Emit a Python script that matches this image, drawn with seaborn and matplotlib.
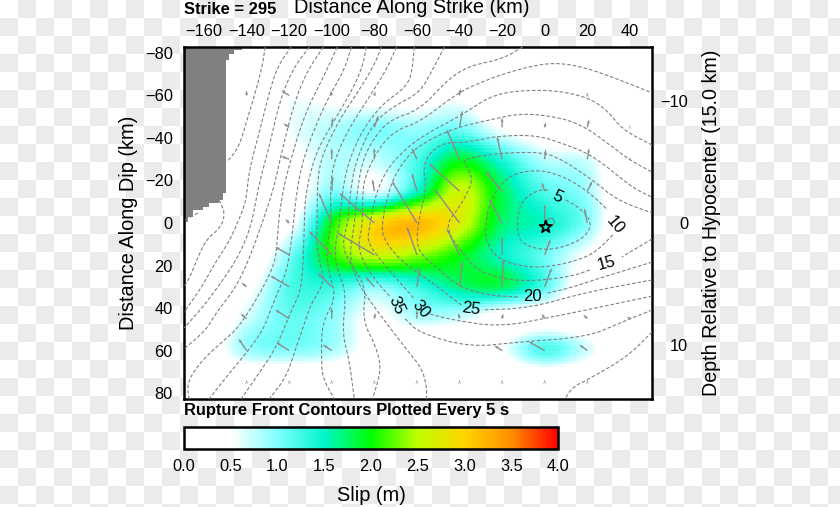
import numpy as np
import pandas as pd
import matplotlib
matplotlib.use("Agg")
import matplotlib.pyplot as plt
import seaborn as sns

# ---------- slip on the fault grid (m) ----------
strike_nodes = [-160, -140, -120, -100, -80, -60, -40, -20, 0, 20, 40]
dip_nodes = [-75, -60, -45, -30, -15, 0, 15, 30, 45, 60, 75]
slip_m75 = [0, 0, 0, 0, 0, 0, 0, 0, 0, 0, 0]
slip_m60 = [0, 0, .5, .4, .3, .3, .45, 0, 0, 0, 0]
slip_m45 = [0, 0, .55, .8, 1.0, .9, 1.05, .5, .2, 0, 0]
slip_m30 = [0, 0, .35, .8, .75, 1.2, 1.9, 1.4, .8, .7, 0]
slip_m15 = [0, 0, .15, 1.0, .6, 1.5, 2.6, 1.8, 1.2, .9, 0]
slip_p00 = [0, 0, .4, 2.0, 2.9, 3.2, 2.7, 1.75, 1.5, 1.0, 0]
slip_p15 = [0, .1, 1.0, 2.1, 2.6, 2.4, 2.0, 1.5, 1.1, .5, 0]
slip_p30 = [0, .4, 1.2, 1.3, 1.0, 1.3, 1.7, 1.8, 1.2, .2, 0]
slip_p45 = [0, .7, 1.1, .95, .45, .8, .7, .3, .2, .1, 0]
slip_p60 = [.25, .9, 1.0, .85, .3, 0, 0, .5, 1.2, .7, 0]
slip_p75 = [0, 0, 0, 0, 0, 0, 0, 0, 0, 0, 0]

# ---------- slip vectors (tail node, then offset to head, km) ----------
vec_x = [-140, -120, -100, -80, -40, 20,
         -120, -100, -80, -40, -20, 0, 20, 40,
         -120, -100, -80, -60, -40, -20, 0, 20, 40,
         -100, -80, -60, -40, -20, 0, 20,
         -120, -100, -80, -60, -40, -20, 0, 20,
         -120, -100, -80, -60, -40, -20, 0,
         -140, -120, -100, -80, -60, -40, -20, 0,
         -140, -120, -100, -80, -60, -40, -20, 0, 20, 40,
         -140, -120, -100, -20, 0, 20,
         -140, -120, -100, -80, -60, -40, -20, 0, 20]
vec_y = [-60] * 6 + [-45] * 8 + [-30] * 9 + [-15] * 7 + [0] * 8 + [15] * 7 + [30] * 8 + [45] * 10 + [60] * 6 + [75] * 9
vec_u = [0, -3.8, -.5, .5, .5, 0,
         -2.8, .5, 1.9, 1.4, 0, .5, .9, 0,
         -3.8, 0, 0, -2.4, -6.1, -2.4, .5, .9, 0,
         .5, -.9, -2.4, -14.6, -8, -1.4, 2.4,
         -1.9, -6.1, -16.5, -11.8, -11.8, -6.1, 0, -1.4,
         -6.6, -10.8, -17.4, -4.7, -6.1, 0, 2.8,
         -2.4, -8.9, -6.6, -4.2, 1.4, 1.4, .5, 3.3,
         -2.8, -6.6, 0, .5, 0, -.5, .5, -1.4, -1.9, -1.4,
         -3.8, -6.1, -4.2, -3.8, -7.5, -3.8,
         0, 0, 0, 0, 0, 0, 0, 0, 0]
vec_v = [-2.4, -2.4, -2.4, -2, -3.3, -1.4,
         -1.9, -4.7, -5.6, -8, -4.7, -2.4, -3.8, -1,
         -1.4, -5.2, -5.4, -5.2, -14.1, -10.8, -4.7, -5.2, -1,
         -7, -5.6, -8.5, -13.2, -9.4, -4.2, -4.7,
         -1.9, -14.1, -14.1, -19.8, -16, -11.3, -8.9, -7,
         -3.8, -11.3, -10.4, -13.2, -12.7, -8.5, -7.5,
         -1.9, -5.2, -6.6, -4.7, -9.4, -12.2, -13.2, -8.9,
         -2.4, -4.2, -5.2, -2.8, -4.2, -2.8, -2.4, -2.4, -1.9, -1,
         -5.6, -3.8, -2.8, -2.4, -4.2, -2.8,
         -1.2, -1.2, -1.2, -1.2, -1.2, -1.2, -1.2, -1.2, -1.2]

# ---------- rupture-front contours (km along strike / dip), nan = gap for a label ----------
n = np.nan
front05_x = [9.9, 16.5, 22.6, 17.9, 2.4, -10.4, -13.2, -11.8, -3.8, 1.9]
front05_y = [-10.8, -7.1, 0, 8, 13.2, 10.4, 3.3, -9.4, -15.5, -15.5]
front10_x = [32, 25.9, 19.8, 7.1, -7.1, -21.2, -26.8, -28.2, -25.9, -19.8, -11.8, -.9, 10.4, 21.2, 29.6]
front10_y = [5.6, 11.8, 16, 19.8, 21.2, 17.4, 10.4, 3.3, -9.4, -19.8, -24, -24.9, -21.2, -14.1, -6.1]
front15_x = [50.4, 36.2, n, 21.2, 11.8, -11.8, -30.6, -38.6, -44.7, -45.6, -40, -33.9, -35.3, -38.6, -35.3, -21.2, -.9, 8.5, 22.6, 33.9, 50.4]
front15_y = [7.5, 16, n, 22.1, 25.4, 27.8, 23.5, 14.1, 5.6, -.5, -7.5, -18.8, -24.9, -29.2, -30.6, -32.9, -33.4, -29.6, -20.2, -10.8, -4.7]
front20_x = [50.4, 25.9, 11.8, 1.4, n, -12.7, -27.3, -40, -49.4, -58.8, -60.2, -58.8, -55.5, -57.4, -49.4, -35.3, -22.6, -3.8, 10.4, 19.8, 28.2, 41.4, 50.4]
front20_y = [18.4, 25.9, 30.6, 32.9, n, 34.8, 33.9, 30.1, 22.1, 14.1, 6.6, -2.8, -16.9, -28.2, -37.6, -38.1, -40.9, -41.4, -36.7, -32.9, -27.3, -16.5, -12.2]
front25_x = [50.4, 19.8, -7.1, -29.2, n, -39.1, -52.7, -68.2, -76.2, -76.2, -74.8, -71.5, -65.9, -58.8, -42.4, -25.9, -10.4, 8.5, 19.8, 30.6, 40, 50.4]
front25_y = [26.8, 32.5, 40, 40.9, n, 38.6, 28.2, 17.4, 6.6, -.5, -8.5, -20.2, -29.6, -36.7, -44.7, -48.5, -51.8, -49.4, -44.7, -36.7, -29.6, -24]
front30_x = [50.4, 3.8, -21.2, -43.3, -54.1, n, -61.6, -74.4, -83.3, -82.4, -79.5, -74.4, -65.9, -56.5, -43.3, -35.3, -25.9, -15.1, 3.8, 19.8, 29.2, 36.7, 50.4]
front30_y = [34.4, 44.2, 48.9, 45.6, 42.8, n, 35.3, 20.7, 9.4, 2.4, -13.2, -24.9, -34.4, -41.4, -48.5, -53.2, -59.3, -62.1, -62.6, -59.3, -53.2, -43.8, -36.7]
front35_x = [50.4, 35.3, 19.8, -11.8, -35.3, -58.8, -65.9, n, -72.9, -80.9, -88, -85.6, -85.6, -84.7, -77.6, -69.6, -58.8, -43.3, -35.3, -19.8, -3.8, 7.1, 19.8, 35.3, 50.4]
front35_y = [40.9, 47.1, 53.6, 56, 58.4, 51.8, 44.7, n, 34.4, 25.4, 12.7, .9, -10.8, -21.6, -35.8, -43.8, -47.5, -59.3, -64, -70.1, -74.4, -75.3, -72.9, -67.3, -61.2]
front40_x = [-10.4, -19.8, -35.3, -44.7, -58.8, -72.9, -80.9, -86.1, -88.5, -89.4, -91.8, -88.5, -82.4, -74.4, -63.5, -57.9, -55.5, -55.5, n, 50.4, 38.6, 19.8, 13.2, 9.4]
front40_y = [-82.8, -77.2, -73.9, -68.2, -53.2, -48.5, -39.1, -27.8, -10.8, .9, 15.1, 26.8, 36.2, 47.1, 61.2, 68.2, 76.2, 82.8, n, 51.3, 63.1, 73.9, 77.2, 82.8]
front45_x = [-47.1, -52.7, -58.8, -71.5, -80.9, -88.5, -90.8, -91.8, -92.7, -95.1, -91.8, -83.8, -85.6, -79.1, -76.7, -80.9]
front45_y = [-82.8, -72, -61.2, -54.6, -46.6, -29.6, -17.9, -8.5, .9, 10.4, 18.4, 30.1, 45.6, 58.4, 69.2, 82.8]
front50_x = [-61.2, -62.6, -66.8, -76.2, -85.6, -91.8, -94.6, -96.5, -98.8, -97.4, -93.2, -95.1, -91.8, -89.4]
front50_y = [-82.8, -68.7, -62.6, -56, -43.8, -29.6, -17.9, .9, 12.7, 22.1, 32.9, 51.8, 64.5, 82.8]
front55_x = [-69.6, -74.4, -82.4, -93.2, -99.8, -100.7, -100.2, -102.6, -101.2, -97.9, -104.5, -104.9, -104.5, -98.8]
front55_y = [-82.8, -72, -59.3, -42.4, -26.4, -13.2, .9, 12.7, 24.5, 34.8, 47.1, 61.2, 72.5, 82.8]
front60_x = [-76.7, -80, -87.1, -96.5, -104.5, -106.8, -106.8, -107.3, -105.4, -103.5, -109.6, -113.4, -116.7, -121.4, -129.4]
front60_y = [-82.8, -74.4, -62.6, -48.5, -32, -20.2, .9, 10.4, 18.8, 28.2, 37.6, 48.9, 58.4, 72.5, 82.8]
front65_x = [-83.8, -85.6, -90.4, -99.8, -106.8, -110.6, -112.5, -112.9, -113.4, -114.4, -119.5, -126, -134.1, -142.6]
front65_y = [-82.8, -73.4, -62.6, -46.6, -34.4, -21.6, -10.8, .9, 17.4, 31.5, 42.4, 58.4, 70.6, 82.8]
front70_x = [-90.8, -94.1, -103.5, -112, -115.3, -117.2, -118.1, -119.5, -121.4, -127.5, -132.2, -140.2, -149.6, -157.6]
front70_y = [-82.8, -72, -55.5, -34.4, -21.6, -8.5, .9, 12.7, 23.5, 37.6, 50.4, 61.2, 72.5, 82.8]
front75_x = [-97.4, -103.5, -112.9, -120, -122.8, -124.7, -125.6, -126.6, -133.6, -143.5, -151.5, -160.9, -168, -167.1]
front75_y = [-82.8, -69.6, -50.8, -27.3, -15.5, -3.8, 8, 18.8, 32.9, 48.9, 56, 64.5, 74.8, 82.8]
front80_x = [-104, -112, -117.6, -123.3, -127.1, -132.2, -138.4, -144.9, -154.4, -159.1, -169.4]
front80_y = [-82.8, -70.6, -56.5, -34.4, -16.9, -1.4, 16, 30.1, 42.4, 50.4, 59.3]
front85_x = [-110.6, -118.6, -124.7, -129.4, -134.1, -137.9, -144, -151.1, -160.5, -169.4]
front85_y = [-82.8, -72, -56.5, -35.8, -18.8, 1.9, 16, 26.8, 39.5, 49.4]
front90_x = [-119.1, -125.6, -129.4, -134.1, -138.8, -140.2, -143.1, -147.8, -154.8, -161.9, -169.4]
front90_y = [-82.8, -73.4, -61.2, -42.4, -24.9, -10.8, -2.8, 8, 18.8, 31.5, 41.9]
front95_x = [-131.3, -132.7, -136.5, -139.8, -143.5, -149.2, n, -152.9, -150.1, -152, -159.1, -162.8, -166.6, -169.4, n, -168.9, -162.8]
front95_y = [-82.8, -73.4, -59.3, -48.5, -35.8, -28.7, n, -10.8, -4.7, 1.9, 8, 16, 25.4, 30.1, n, -1.4, -4.7]
front_lines = [(front05_x, front05_y), (front10_x, front10_y), (front15_x, front15_y), (front20_x, front20_y),
               (front25_x, front25_y), (front30_x, front30_y), (front35_x, front35_y), (front40_x, front40_y),
               (front45_x, front45_y), (front50_x, front50_y), (front55_x, front55_y), (front60_x, front60_y),
               (front65_x, front65_y), (front70_x, front70_y), (front75_x, front75_y), (front80_x, front80_y),
               (front85_x, front85_y), (front90_x, front90_y), (front95_x, front95_y)]

front_labels = ["5", "10", "15", "20", "25", "30", "35"]
front_label_x = [6.1, 32.9, 29.2, -5.6, -34.8, -58.3, -69.6]
front_label_y = [-12.2, .9, 18.8, 34.4, 40.4, 40.4, 39]
front_label_rot = [-25, -50, 15, 0, -8, -50, -65]

# ---------- area above the free surface (staircase edge) ----------
void_y = [-82.8, -81.4, -79.5, -76.7, -14.1, -10.8, -9.4, -7.5, -6.1, -2.8, -.5]
void_x = [-142.1, -145.9, -148.2, -149.6, -151, -152.9, -157.6, -160.5, -165.2, -167.5, -169.4]

hypo_x, hypo_y = [.5], [1.9]
ring_x, ring_y = [2.8], [-.5]

strike_ticks = [-160, -140, -120, -100, -80, -60, -40, -20, 0, 20, 40]
dip_ticks = [-80, -60, -40, -20, 0, 20, 40, 60, 80]
depth_ticks = [-10, 0, 10]
slip_ticks = [0.0, 0.5, 1.0, 1.5, 2.0, 2.5, 3.0, 3.5, 4.0]
slip_colors = ["#ffffff", "#ffffff", "#80ffff", "#00f5cc", "#00ff00", "#bfff00", "#ffd500", "#ff9000", "#ff0000"]

# ---------- style ----------
sns.set_theme(style="white")
plt.rcParams["font.family"] = ["Liberation Sans", "DejaVu Sans"]
plt.rcParams["axes.unicode_minus"] = True

W, H = 840, 507
TICK, LABEL, BOLD = 11.8, 14.4, 11.9
fig = plt.figure(figsize=(W / 100, H / 100), dpi=100)

# transparency-style checker behind the figure
ix, iy = np.meshgrid(np.arange(W) // 18, np.arange(H) // 18)
shade = np.where((ix + iy) % 2 == 1, 235, 255).astype(np.uint8)
fig.figimage(np.dstack([shade] * 3), xo=0, yo=0, origin="upper", zorder=-5)
fig.patch.set_alpha(0)


def box(x0, y0, x1, y1):
    return [x0 / W, 1 - y1 / H, (x1 - x0) / W, (y1 - y0) / H]


XL, YL = (-169.4, 50.4), (82.8, -82.8)
ax_heat = fig.add_axes(box(184, 47, 652, 399))
cax = fig.add_axes(box(184, 427, 558, 449))
ax = fig.add_axes(box(184, 47, 652, 399))
ax.patch.set_alpha(0)


# smooth the node values onto display cells (cubic convolution)
def resample(v, src, dst):
    src = np.asarray(src, float)
    step = src[1] - src[0]
    t = (dst - src[0]) / step
    i = np.floor(t).astype(int)
    f = t - i
    w = [-.5 * f + f**2 - .5 * f**3, 1 - 2.5 * f**2 + 1.5 * f**3, .5 * f + 2 * f**2 - 1.5 * f**3, -.5 * f**2 + .5 * f**3]
    out = 0
    for k, wk in enumerate(w):
        idx = np.clip(i + k - 1, 0, len(src) - 1)
        out = out + v[idx] * wk.reshape((-1,) + (1,) * (v.ndim - 1))
    return out


slip = np.array([slip_m75, slip_m60, slip_m45, slip_m30, slip_m15, slip_p00, slip_p15, slip_p30, slip_p45, slip_p60, slip_p75], float)
fine_x = np.linspace(XL[0], XL[1], 147)
fine_y = np.linspace(YL[1], YL[0], 111)
fine = resample(slip, dip_nodes, fine_y)
fine = resample(fine.T, strike_nodes, fine_x).T
fine[(fine_y > 75)] = 0
fine = np.clip(fine, 0, 4)
fine[:, fine_x > 40] = 0

cmap = sns.blend_palette(slip_colors, n_colors=256, as_cmap=True)
sns.heatmap(pd.DataFrame(fine), ax=ax_heat, cmap=cmap, vmin=0, vmax=4, xticklabels=False, yticklabels=False,
            cbar_ax=cax, cbar_kws={"orientation": "horizontal", "ticks": slip_ticks})
ax_heat.set_xlabel("")
ax_heat.set_ylabel("")

# grey void
ax.fill_betweenx(void_y + [-.4], XL[0], void_x + [void_x[-1]], step="post", color="#808080", lw=0, zorder=1)


# contours: rounded a little when drawn
def rounded(xs, ys):
    p = np.column_stack([xs, ys])
    for _ in range(2):
        q = np.empty((len(p) * 2, 2))
        q[0::2] = .75 * p + .25 * np.roll(p, -1, axis=0)
        q[1::2] = .25 * p + .75 * np.roll(p, -1, axis=0)
        p = np.vstack([p[:1], q[:-2], p[-1:]])
    return p


rows = []
unit = 0
for xs, ys in front_lines:
    xs, ys = np.array(xs, float), np.array(ys, float)
    cuts = np.r_[-1, np.where(np.isnan(xs))[0], len(xs)]
    for a, b in zip(cuts[:-1], cuts[1:]):
        seg = rounded(xs[a + 1:b], ys[a + 1:b])
        rows.append(pd.DataFrame({"x": seg[:, 0], "y": seg[:, 1], "unit": unit}))
        unit += 1
fronts = pd.concat(rows, ignore_index=True)
sns.lineplot(data=fronts, x="x", y="y", units="unit", estimator=None, sort=False, ax=ax, color="#808080",
             lw=.8, linestyle=(0, (3.2, 1.8)), legend=False, zorder=3)

ax.quiver(vec_x, vec_y, vec_u, vec_v, angles="xy", scale_units="xy", scale=1, color="#8c8c8c", units="dots",
          width=1.4, headwidth=2.1, headlength=3.2, headaxislength=2.9, minshaft=.6, minlength=.2, zorder=4)

for s, x, y, r in zip(front_labels, front_label_x, front_label_y, front_label_rot):
    ax.text(x, y, s, fontsize=12, rotation=r, ha="center", va="center", color="black", zorder=6)

ax.scatter(ring_x, ring_y, s=28, facecolor="none", edgecolor="#7a7a7a", lw=.7, zorder=5)
ax.scatter(hypo_x, hypo_y, marker="*", s=85, facecolor="none", edgecolor="black", lw=1.3, zorder=6)

ax.set_xlim(*XL)
ax.set_ylim(*YL)
ax.xaxis.tick_top()
ax.set_xticks(strike_ticks)
ax.set_yticks(dip_ticks)
ax.tick_params(axis="x", length=0, pad=6, labelsize=TICK, colors="black")
ax.tick_params(axis="y", length=0, pad=8, labelsize=TICK, colors="black")
for sp in ax.spines.values():
    sp.set_visible(True)
    sp.set_linewidth(1.8)
    sp.set_color("black")
ax.set_xlabel("Distance Along Strike (km)", fontsize=LABEL, color="black")
ax.xaxis.set_label_position("top")
ax.xaxis.label.set_verticalalignment("center")
ax.xaxis.set_label_coords(.486, 1.111)
ax.set_ylabel("Distance Along Dip (km)", fontsize=LABEL, color="black", va="center")
ax.yaxis.set_label_coords(-.119, .5)

sin_dip = .1736
ax2 = ax.twinx()
ax2.patch.set_alpha(0)
ax2.set_ylim(YL[0] * sin_dip, YL[1] * sin_dip)
ax2.set_yticks(depth_ticks)
ax2.tick_params(axis="y", length=0, pad=26, labelsize=TICK, colors="black")
for lab in ax2.get_yticklabels():
    lab.set_horizontalalignment("right")
for sp in ax2.spines.values():
    sp.set_visible(False)
ax2.set_ylabel("Depth Relative to Hypocenter (15.0 km)", fontsize=14.1, color="black", va="center")
ax2.yaxis.set_label_coords(1.128, .5)

# colour bar
cbar = ax_heat.collections[0].colorbar
cbar.outline.set_linewidth(1.8)
cbar.outline.set_edgecolor("black")
cbar.outline.set_visible(True)
cax.set_xticks(slip_ticks)
cax.set_xticklabels([f"{v:.1f}" for v in slip_ticks])
cax.tick_params(axis="x", length=0, pad=7, labelsize=TICK, colors="black")
cax.set_xlabel("Slip (m)", fontsize=LABEL, color="black", va="center")
cax.xaxis.set_label_coords(.5, -2.136)

fig.text(184 / W, 1 - 9 / H, "Strike = 295", fontsize=BOLD, fontweight="bold", va="center", ha="left", color="black")
fig.text(184 / W, 1 - 410 / H, "Rupture Front Contours Plotted Every 5 s", fontsize=BOLD, fontweight="bold",
         va="center", ha="left", color="black")

fig.savefig("out.png", dpi=100)
